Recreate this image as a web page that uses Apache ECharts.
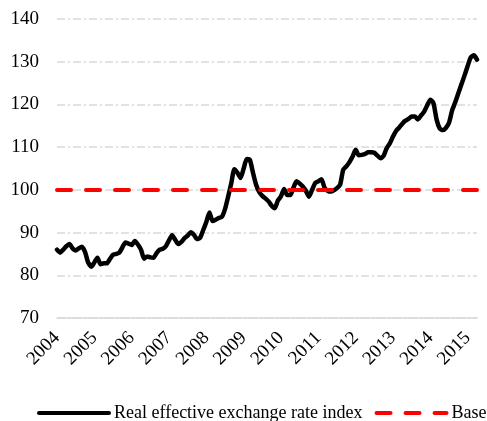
<!DOCTYPE html>
<html>
<head>
<meta charset="utf-8">
<script src="https://cdn.jsdelivr.net/npm/echarts@6/dist/echarts.min.js"></script>
<style>
  html, body { margin: 0; padding: 0; background: #fff; }
  #chart { width: 487px; height: 421px; }
</style>
</head>
<body>
<div id="chart"></div>
<script>
// years shown on the x axis (monthly data, Jan 2004 - Apr 2015)
var years = ["2004", "2005", "2006", "2007", "2008", "2009", "2010", "2011", "2012", "2013", "2014", "2015"];

// real effective exchange rate index, monthly
var reer = [
  86.0, 85.3, 86.0, 86.8, 87.3, 86.3, 85.8, 86.3, 86.7, 85.5, 83.0, 82.0,
  83.0, 84.1, 82.6, 82.8, 82.8, 83.8, 84.8, 85.0, 85.3, 86.5, 87.7, 87.4,
  87.1, 88.0, 87.2, 86.0, 83.9, 84.4, 84.2, 84.1, 85.2, 86.0, 86.2, 86.8,
  88.2, 89.4, 88.3, 87.3, 87.8, 88.7, 89.3, 90.1, 89.5, 88.5, 88.8, 90.6,
  92.5, 94.7, 92.7, 93.0, 93.4, 93.7, 95.5, 98.4, 101.5, 104.8, 104.0, 102.8,
  105.0, 107.2, 107.0, 104.0, 101.2, 99.5, 98.6, 98.0, 97.3, 96.3, 95.7, 97.5,
  98.5, 100.2, 98.8, 98.8, 100.5, 102.0, 101.5, 100.8, 99.8, 98.4, 100.0, 101.6,
  102.0, 102.5, 100.5, 99.8, 99.6, 99.9, 100.4, 101.2, 104.7, 105.5, 106.5, 107.8,
  109.4, 108.1, 108.2, 108.4, 108.8, 108.8, 108.7, 108.0, 107.4, 108.0, 109.8, 110.9,
  112.5, 113.8, 114.6, 115.5, 116.2, 116.6, 117.2, 117.2, 116.5, 117.4, 118.3, 119.8,
  121.1, 120.3, 116.5, 114.4, 114.0, 114.5, 115.7, 118.6, 120.5, 122.6, 124.7, 126.8,
  129.0, 131.0, 131.5, 130.5
];

var baseValue = 100;
var yTicks = { min: 70, max: 140, interval: 10 };

// month categories
var months = [];
years.forEach(function (y) {
  for (var m = 1; m <= 12; m++) {
    months.push(y + "-" + (m < 10 ? "0" + m : m));
  }
});
months = months.slice(0, reer.length);

var font = "Liberation Serif";
var chart = echarts.init(document.getElementById("chart"));

var option = {
  animation: false,
  backgroundColor: "#fff",
  grid: { left: 57, right: 10, top: 19, bottom: 103 },
  legend: {
    left: 37,
    top: 404,
    padding: 0,
    itemWidth: 70,
    itemHeight: 14,
    itemGap: 12,
    itemStyle: { opacity: 0 },
    lineStyle: { width: 4 },
    textStyle: { fontFamily: font, fontSize: 18, color: "#000" },
    data: ["Real effective exchange rate index", "Base"]
  },
  xAxis: {
    type: "category",
    data: months,
    boundaryGap: false,
    axisTick: { show: false },
    axisLine: { lineStyle: { color: "#d9d9d9", width: 1.5 } },
    axisLabel: {
      interval: function (i) { return i % 12 === 0; },
      formatter: function (v) { return v.slice(0, 4); },
      rotate: 45,
      margin: 17,
      fontFamily: font,
      fontSize: 19,
      color: "#000"
    },
    splitLine: { show: false }
  },
  yAxis: {
    type: "value",
    min: yTicks.min,
    max: yTicks.max,
    interval: yTicks.interval,
    axisLine: { show: false },
    axisTick: { show: false },
    axisLabel: { fontFamily: font, fontSize: 19, color: "#000", margin: 18 },
    splitLine: {
      lineStyle: { color: "#d9d9d9", width: 1.5, type: [8, 3, 2, 3] }
    }
  },
  series: [
    {
      name: "Real effective exchange rate index",
      type: "line",
      data: reer,
      symbol: "none",
      showSymbol: false,
      smooth: 0.2,
      lineStyle: { color: "#000", width: 4.5, cap: "round", join: "round" },
      itemStyle: { color: "#000" },
      z: 2
    },
    {
      name: "Base",
      type: "line",
      data: [],
      symbol: "none",
      showSymbol: false,
      lineStyle: { color: "#ff0000", width: 4, type: [14, 15], cap: "round" },
      itemStyle: { color: "#ff0000" },
      z: 3,
      markLine: {
        silent: true,
        symbol: "none",
        label: { show: false },
        lineStyle: { color: "#ff0000", width: 4, type: [14, 15], cap: "round" },
        data: [{ yAxis: baseValue }]
      }
    }
  ]
};

chart.setOption(option);
</script>
</body>
</html>
